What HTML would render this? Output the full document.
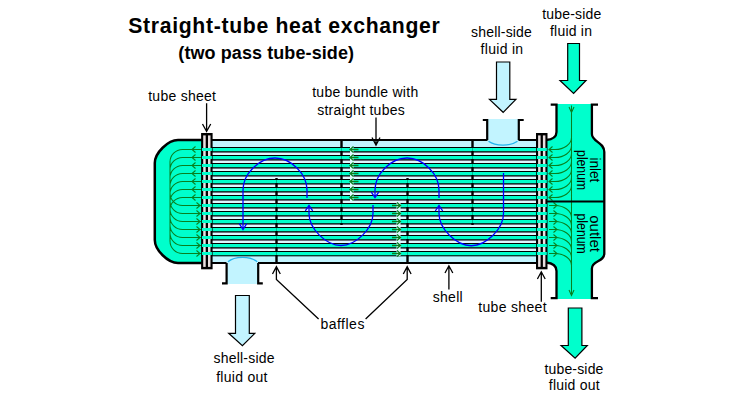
<!DOCTYPE html>
<html><head><meta charset="utf-8"><style>
html,body{margin:0;padding:0;background:#fff;width:750px;height:400px;overflow:hidden}
svg{display:block}
</style></head><body>
<svg width="750" height="400" viewBox="0 0 750 400">
<rect width="750" height="400" fill="#fff"/>
<text x="128.2" y="32.7" font-family="Liberation Sans, sans-serif" font-weight="bold" font-size="21.2" textLength="311.6" lengthAdjust="spacing">Straight-tube heat exchanger</text><text x="178.3" y="58.9" font-family="Liberation Sans, sans-serif" font-weight="bold" font-size="18" textLength="175.7" lengthAdjust="spacing">(two pass tube-side)</text><text x="148.2" y="101.10" font-family="Liberation Sans, sans-serif" font-size="14" textLength="67.8" lengthAdjust="spacing">tube sheet</text><text x="312.2" y="97.10" font-family="Liberation Sans, sans-serif" font-size="14" textLength="106" lengthAdjust="spacing">tube bundle with</text><text x="317.2" y="114.60" font-family="Liberation Sans, sans-serif" font-size="14" textLength="87.6" lengthAdjust="spacing">straight tubes</text><text x="471" y="36.60" font-family="Liberation Sans, sans-serif" font-size="14" textLength="60.9" lengthAdjust="spacing">shell-side</text><text x="480.6" y="54.35" font-family="Liberation Sans, sans-serif" font-size="14" textLength="42.5" lengthAdjust="spacing">fluid in</text><text x="542.2" y="19.10" font-family="Liberation Sans, sans-serif" font-size="14" textLength="59" lengthAdjust="spacing">tube-side</text><text x="550" y="36.10" font-family="Liberation Sans, sans-serif" font-size="14" textLength="42" lengthAdjust="spacing">fluid in</text><text x="320.4" y="329.20" font-family="Liberation Sans, sans-serif" font-size="14" textLength="44" lengthAdjust="spacing">baffles</text><text x="432.7" y="301.70" font-family="Liberation Sans, sans-serif" font-size="14" textLength="30" lengthAdjust="spacing">shell</text><text x="478.2" y="311.60" font-family="Liberation Sans, sans-serif" font-size="14" textLength="68.4" lengthAdjust="spacing">tube sheet</text><text x="213.5" y="362.80" font-family="Liberation Sans, sans-serif" font-size="14" textLength="61" lengthAdjust="spacing">shell-side</text><text x="216.2" y="381.60" font-family="Liberation Sans, sans-serif" font-size="14" textLength="51.3" lengthAdjust="spacing">fluid out</text><text x="544.4" y="373.60" font-family="Liberation Sans, sans-serif" font-size="14" textLength="59" lengthAdjust="spacing">tube-side</text><text x="548.8" y="390.40" font-family="Liberation Sans, sans-serif" font-size="14" textLength="50.8" lengthAdjust="spacing">fluid out</text><rect x="212" y="141" width="326" height="121" fill="#C2F4FF"/><rect x="212" y="147" width="326" height="1" fill="#000"/><rect x="212" y="148" width="326" height="3" fill="#00FFCC"/><rect x="212" y="151" width="326" height="1" fill="#083E32"/><rect x="212" y="152" width="326" height="1" fill="#6E6E7C"/><rect x="212" y="153" width="326" height="2" fill="#DCF9FF"/><rect x="212" y="155" width="326" height="1" fill="#000"/><rect x="212" y="156" width="326" height="3" fill="#00FFCC"/><rect x="212" y="159" width="326" height="1" fill="#083E32"/><rect x="212" y="160" width="326" height="1" fill="#6E6E7C"/><rect x="212" y="161" width="326" height="2" fill="#DCF9FF"/><rect x="212" y="163" width="326" height="1" fill="#000"/><rect x="212" y="164" width="326" height="3" fill="#00FFCC"/><rect x="212" y="167" width="326" height="1" fill="#083E32"/><rect x="212" y="168" width="326" height="1" fill="#6E6E7C"/><rect x="212" y="169" width="326" height="2" fill="#DCF9FF"/><rect x="212" y="171" width="326" height="1" fill="#000"/><rect x="212" y="172" width="326" height="3" fill="#00FFCC"/><rect x="212" y="175" width="326" height="1" fill="#083E32"/><rect x="212" y="176" width="326" height="1" fill="#6E6E7C"/><rect x="212" y="177" width="326" height="2" fill="#DCF9FF"/><rect x="212" y="179" width="326" height="1" fill="#000"/><rect x="212" y="180" width="326" height="3" fill="#00FFCC"/><rect x="212" y="183" width="326" height="1" fill="#083E32"/><rect x="212" y="184" width="326" height="1" fill="#6E6E7C"/><rect x="212" y="185" width="326" height="2" fill="#DCF9FF"/><rect x="212" y="187" width="326" height="1" fill="#000"/><rect x="212" y="188" width="326" height="3" fill="#00FFCC"/><rect x="212" y="191" width="326" height="1" fill="#083E32"/><rect x="212" y="192" width="326" height="1" fill="#6E6E7C"/><rect x="212" y="193" width="326" height="2" fill="#DCF9FF"/><rect x="212" y="195" width="326" height="1" fill="#000"/><rect x="212" y="196" width="326" height="3" fill="#00FFCC"/><rect x="212" y="199" width="326" height="1" fill="#083E32"/><rect x="212" y="200" width="326" height="1" fill="#6E6E7C"/><rect x="212" y="201" width="326" height="2" fill="#DCF9FF"/><rect x="212" y="203" width="326" height="1" fill="#000"/><rect x="212" y="204" width="326" height="3" fill="#00FFCC"/><rect x="212" y="207" width="326" height="1" fill="#083E32"/><rect x="212" y="208" width="326" height="1" fill="#6E6E7C"/><rect x="212" y="209" width="326" height="2" fill="#DCF9FF"/><rect x="212" y="211" width="326" height="1" fill="#000"/><rect x="212" y="212" width="326" height="3" fill="#00FFCC"/><rect x="212" y="215" width="326" height="1" fill="#083E32"/><rect x="212" y="216" width="326" height="1" fill="#6E6E7C"/><rect x="212" y="217" width="326" height="2" fill="#DCF9FF"/><rect x="212" y="219" width="326" height="1" fill="#000"/><rect x="212" y="220" width="326" height="3" fill="#00FFCC"/><rect x="212" y="223" width="326" height="1" fill="#083E32"/><rect x="212" y="224" width="326" height="1" fill="#6E6E7C"/><rect x="212" y="225" width="326" height="2" fill="#DCF9FF"/><rect x="212" y="227" width="326" height="1" fill="#000"/><rect x="212" y="228" width="326" height="3" fill="#00FFCC"/><rect x="212" y="231" width="326" height="1" fill="#083E32"/><rect x="212" y="232" width="326" height="1" fill="#6E6E7C"/><rect x="212" y="233" width="326" height="2" fill="#DCF9FF"/><rect x="212" y="235" width="326" height="1" fill="#000"/><rect x="212" y="236" width="326" height="3" fill="#00FFCC"/><rect x="212" y="239" width="326" height="1" fill="#083E32"/><rect x="212" y="240" width="326" height="1" fill="#6E6E7C"/><rect x="212" y="241" width="326" height="2" fill="#DCF9FF"/><rect x="212" y="243" width="326" height="1" fill="#000"/><rect x="212" y="244" width="326" height="3" fill="#00FFCC"/><rect x="212" y="247" width="326" height="1" fill="#083E32"/><rect x="212" y="248" width="326" height="1" fill="#6E6E7C"/><rect x="212" y="249" width="326" height="2" fill="#DCF9FF"/><rect x="212" y="251" width="326" height="1" fill="#000"/><rect x="212" y="252" width="326" height="3" fill="#00FFCC"/><rect x="212" y="255" width="326" height="1" fill="#083E32"/><rect x="212" y="256" width="326" height="1" fill="#7AA8B0"/><rect x="487" y="119" width="32" height="23" fill="#C2F4FF"/><path d="M482.8 120 H487.2 V140" fill="none" stroke="#000" stroke-width="2.2"/><path d="M523.7 120 H518.8 V140" fill="none" stroke="#000" stroke-width="2.2"/><path d="M488.5 141.3 C493 144.6 497 145.1 503 145.1 C509 145.1 513 144.6 517.5 141.3" fill="none" stroke="#22B4EE" stroke-width="1.3"/><rect x="226" y="262" width="32" height="22" fill="#C2F4FF"/><path d="M222 283.4 H226.6 V263" fill="none" stroke="#000" stroke-width="2.2"/><path d="M262.8 283.4 H258.2 V263" fill="none" stroke="#000" stroke-width="2.2"/><path d="M228 261.8 C232 258.2 237 257.4 242.6 257.4 C248 257.4 253 258.2 257.2 261.8" fill="none" stroke="#22B4EE" stroke-width="1.3"/><rect x="178" y="139" width="309.5" height="2" fill="#000"/><rect x="518.5" y="139" width="28" height="2" fill="#000"/><rect x="178" y="262" width="48.5" height="2" fill="#000"/><rect x="258" y="262" width="288" height="2" fill="#000"/><path d="M202 140 H178 C168 140 154.8 153 154.8 163 V240 C154.8 250 168 263 178 263 H202 Z" fill="#00FFCC"/><path d="M202 140 H178 C168 140 154.8 153 154.8 163 V240 C154.8 250 168 263 178 263 H202" fill="none" stroke="#000" stroke-width="2.5"/><path d="M556.5 104 V132 C556.5 138 552 139.5 547 140 V262.5 C552 263 556.5 265 556.5 271 V299 H591.9 V268.5 C591.9 260.5 604.3 262 604.3 253.5 V152 C604.3 142 591.9 142 591.9 134 V104 Z" fill="#00FFCC"/><path d="M550.7 104.6 H556.5 V132 C556.5 138 552 139.5 546 140" fill="none" stroke="#000" stroke-width="2.3"/><path d="M598 104.6 H591.9 V134 C591.9 142 604.3 142 604.3 152 V253.5 C604.3 262 591.9 260.5 591.9 268.5 V298.2 H598" fill="none" stroke="#000" stroke-width="2.3"/><path d="M546 262.5 C552 263 556.5 265 556.5 271 V298.2 H550.7" fill="none" stroke="#000" stroke-width="2.3"/><rect x="201.1" y="133" width="11.5" height="136.3" fill="#000"/><rect x="203.2" y="135.4" width="2.5" height="131.5" fill="#E8E0E0"/><rect x="208.0" y="135.4" width="2.5" height="131.5" fill="#E8E0E0"/><rect x="201.9" y="148" width="10" height="3" fill="#00FFCC"/><rect x="201.9" y="156" width="10" height="3" fill="#00FFCC"/><rect x="201.9" y="164" width="10" height="3" fill="#00FFCC"/><rect x="201.9" y="172" width="10" height="3" fill="#00FFCC"/><rect x="201.9" y="180" width="10" height="3" fill="#00FFCC"/><rect x="201.9" y="188" width="10" height="3" fill="#00FFCC"/><rect x="201.9" y="196" width="10" height="3" fill="#00FFCC"/><rect x="201.9" y="204" width="10" height="3" fill="#00FFCC"/><rect x="201.9" y="212" width="10" height="3" fill="#00FFCC"/><rect x="201.9" y="220" width="10" height="3" fill="#00FFCC"/><rect x="201.9" y="228" width="10" height="3" fill="#00FFCC"/><rect x="201.9" y="236" width="10" height="3" fill="#00FFCC"/><rect x="201.9" y="244" width="10" height="3" fill="#00FFCC"/><rect x="201.9" y="252" width="10" height="3" fill="#00FFCC"/><rect x="536" y="133" width="11.5" height="136.3" fill="#000"/><rect x="538.1" y="135.4" width="2.5" height="131.5" fill="#E8E0E0"/><rect x="542.9" y="135.4" width="2.5" height="131.5" fill="#E8E0E0"/><rect x="536.8" y="148" width="10" height="3" fill="#00FFCC"/><rect x="536.8" y="156" width="10" height="3" fill="#00FFCC"/><rect x="536.8" y="164" width="10" height="3" fill="#00FFCC"/><rect x="536.8" y="172" width="10" height="3" fill="#00FFCC"/><rect x="536.8" y="180" width="10" height="3" fill="#00FFCC"/><rect x="536.8" y="188" width="10" height="3" fill="#00FFCC"/><rect x="536.8" y="196" width="10" height="3" fill="#00FFCC"/><rect x="536.8" y="204" width="10" height="3" fill="#00FFCC"/><rect x="536.8" y="212" width="10" height="3" fill="#00FFCC"/><rect x="536.8" y="220" width="10" height="3" fill="#00FFCC"/><rect x="536.8" y="228" width="10" height="3" fill="#00FFCC"/><rect x="536.8" y="236" width="10" height="3" fill="#00FFCC"/><rect x="536.8" y="244" width="10" height="3" fill="#00FFCC"/><rect x="536.8" y="252" width="10" height="3" fill="#00FFCC"/><rect x="275.3" y="178" width="2.4" height="84" fill="#000"/><rect x="275.0" y="180" width="3" height="3" fill="#00FFCC"/><rect x="276.0" y="180" width="1" height="3" fill="#00B890"/><rect x="275.0" y="188" width="3" height="3" fill="#00FFCC"/><rect x="276.0" y="188" width="1" height="3" fill="#00B890"/><rect x="275.0" y="196" width="3" height="3" fill="#00FFCC"/><rect x="276.0" y="196" width="1" height="3" fill="#00B890"/><rect x="275.0" y="204" width="3" height="3" fill="#00FFCC"/><rect x="276.0" y="204" width="1" height="3" fill="#00B890"/><rect x="275.0" y="212" width="3" height="3" fill="#00FFCC"/><rect x="276.0" y="212" width="1" height="3" fill="#00B890"/><rect x="275.0" y="220" width="3" height="3" fill="#00FFCC"/><rect x="276.0" y="220" width="1" height="3" fill="#00B890"/><rect x="275.0" y="228" width="3" height="3" fill="#00FFCC"/><rect x="276.0" y="228" width="1" height="3" fill="#00B890"/><rect x="275.0" y="236" width="3" height="3" fill="#00FFCC"/><rect x="276.0" y="236" width="1" height="3" fill="#00B890"/><rect x="275.0" y="244" width="3" height="3" fill="#00FFCC"/><rect x="276.0" y="244" width="1" height="3" fill="#00B890"/><rect x="275.0" y="252" width="3" height="3" fill="#00FFCC"/><rect x="276.0" y="252" width="1" height="3" fill="#00B890"/><rect x="340.3" y="141" width="2.4" height="84" fill="#000"/><rect x="340.0" y="148" width="3" height="3" fill="#00FFCC"/><rect x="341.0" y="148" width="1" height="3" fill="#00B890"/><rect x="340.0" y="156" width="3" height="3" fill="#00FFCC"/><rect x="341.0" y="156" width="1" height="3" fill="#00B890"/><rect x="340.0" y="164" width="3" height="3" fill="#00FFCC"/><rect x="341.0" y="164" width="1" height="3" fill="#00B890"/><rect x="340.0" y="172" width="3" height="3" fill="#00FFCC"/><rect x="341.0" y="172" width="1" height="3" fill="#00B890"/><rect x="340.0" y="180" width="3" height="3" fill="#00FFCC"/><rect x="341.0" y="180" width="1" height="3" fill="#00B890"/><rect x="340.0" y="188" width="3" height="3" fill="#00FFCC"/><rect x="341.0" y="188" width="1" height="3" fill="#00B890"/><rect x="340.0" y="196" width="3" height="3" fill="#00FFCC"/><rect x="341.0" y="196" width="1" height="3" fill="#00B890"/><rect x="340.0" y="204" width="3" height="3" fill="#00FFCC"/><rect x="341.0" y="204" width="1" height="3" fill="#00B890"/><rect x="340.0" y="212" width="3" height="3" fill="#00FFCC"/><rect x="341.0" y="212" width="1" height="3" fill="#00B890"/><rect x="340.0" y="220" width="3" height="3" fill="#00FFCC"/><rect x="341.0" y="220" width="1" height="3" fill="#00B890"/><rect x="406.3" y="178" width="2.4" height="84" fill="#000"/><rect x="406.0" y="180" width="3" height="3" fill="#00FFCC"/><rect x="407.0" y="180" width="1" height="3" fill="#00B890"/><rect x="406.0" y="188" width="3" height="3" fill="#00FFCC"/><rect x="407.0" y="188" width="1" height="3" fill="#00B890"/><rect x="406.0" y="196" width="3" height="3" fill="#00FFCC"/><rect x="407.0" y="196" width="1" height="3" fill="#00B890"/><rect x="406.0" y="204" width="3" height="3" fill="#00FFCC"/><rect x="407.0" y="204" width="1" height="3" fill="#00B890"/><rect x="406.0" y="212" width="3" height="3" fill="#00FFCC"/><rect x="407.0" y="212" width="1" height="3" fill="#00B890"/><rect x="406.0" y="220" width="3" height="3" fill="#00FFCC"/><rect x="407.0" y="220" width="1" height="3" fill="#00B890"/><rect x="406.0" y="228" width="3" height="3" fill="#00FFCC"/><rect x="407.0" y="228" width="1" height="3" fill="#00B890"/><rect x="406.0" y="236" width="3" height="3" fill="#00FFCC"/><rect x="407.0" y="236" width="1" height="3" fill="#00B890"/><rect x="406.0" y="244" width="3" height="3" fill="#00FFCC"/><rect x="407.0" y="244" width="1" height="3" fill="#00B890"/><rect x="406.0" y="252" width="3" height="3" fill="#00FFCC"/><rect x="407.0" y="252" width="1" height="3" fill="#00B890"/><rect x="471.3" y="141" width="2.4" height="84" fill="#000"/><rect x="471.0" y="148" width="3" height="3" fill="#00FFCC"/><rect x="472.0" y="148" width="1" height="3" fill="#00B890"/><rect x="471.0" y="156" width="3" height="3" fill="#00FFCC"/><rect x="472.0" y="156" width="1" height="3" fill="#00B890"/><rect x="471.0" y="164" width="3" height="3" fill="#00FFCC"/><rect x="472.0" y="164" width="1" height="3" fill="#00B890"/><rect x="471.0" y="172" width="3" height="3" fill="#00FFCC"/><rect x="472.0" y="172" width="1" height="3" fill="#00B890"/><rect x="471.0" y="180" width="3" height="3" fill="#00FFCC"/><rect x="472.0" y="180" width="1" height="3" fill="#00B890"/><rect x="471.0" y="188" width="3" height="3" fill="#00FFCC"/><rect x="472.0" y="188" width="1" height="3" fill="#00B890"/><rect x="471.0" y="196" width="3" height="3" fill="#00FFCC"/><rect x="472.0" y="196" width="1" height="3" fill="#00B890"/><rect x="471.0" y="204" width="3" height="3" fill="#00FFCC"/><rect x="472.0" y="204" width="1" height="3" fill="#00B890"/><rect x="471.0" y="212" width="3" height="3" fill="#00FFCC"/><rect x="472.0" y="212" width="1" height="3" fill="#00B890"/><rect x="471.0" y="220" width="3" height="3" fill="#00FFCC"/><rect x="472.0" y="220" width="1" height="3" fill="#00B890"/><path d="M243 228 V190 C243 174.0 259.0 158 275 158 C291.0 158 307 174.0 307 190 V198" fill="none" stroke="#0000FF" stroke-width="1.3"/><path d="M309 207 V213.5 C309 228.54 325.96 245.5 341 245.5 C356.04 245.5 373 228.54 373 213.5 V205" fill="none" stroke="#0000FF" stroke-width="1.3"/><path d="M375 196 V190 C375 174.0 391.0 158 407 158 C423.0 158 439 174.0 439 190 V198" fill="none" stroke="#0000FF" stroke-width="1.3"/><path d="M439 207 V213.5 C439.0 228.6575 456.0925 245.75 471.25 245.75 C486.4075 245.75 503.5 228.6575 503.5 213.5 V173" fill="none" stroke="#0000FF" stroke-width="1.3"/><path d="M239.3 223.7 L243 229.5 L246.7 223.7" fill="none" stroke="#0000FF" stroke-width="1.3"/><path d="M305.3 210.9 L309 205.4 L312.7 210.9" fill="none" stroke="#0000FF" stroke-width="1.3"/><path d="M371.3 192.1 L375 197.6 L378.7 192.1" fill="none" stroke="#0000FF" stroke-width="1.3"/><path d="M435.3 211.0 L439 205.5 L442.7 211.0" fill="none" stroke="#0000FF" stroke-width="1.3"/><path d="M201 149.5 H182.5 A12.5 12.5 0 0 0 170 162.0 V202 M195.5 146.5 L192 149.5 L195.5 152.5 M201 157.5 H182.5 A12.5 12.5 0 0 0 170 170.0 V202 M195.5 154.5 L192 157.5 L195.5 160.5 M201 165.5 H182.5 A12.5 12.5 0 0 0 170 178.0 V202 M195.5 162.5 L192 165.5 L195.5 168.5 M201 173.5 H182.5 A12.5 12.5 0 0 0 170 186.0 V202 M195.5 170.5 L192 173.5 L195.5 176.5 M201 181.5 H182.5 A12.5 12.5 0 0 0 170 194.0 V202 M195.5 178.5 L192 181.5 L195.5 184.5 M201 189.5 H182.5 A12.5 12.5 0 0 0 170 202.0 V202 M195.5 186.5 L192 189.5 L195.5 192.5 M201 197.5 H182.5 A12.5 12.5 0 0 0 170 210.0 V202 M195.5 194.5 L192 197.5 L195.5 200.5 M201 205.5 H182.5 A12.5 12.5 0 0 1 170 193.0 V202 M196.5 202.5 L200 205.5 L196.5 208.5 M201 213.5 H182.5 A12.5 12.5 0 0 1 170 201.0 V202 M196.5 210.5 L200 213.5 L196.5 216.5 M201 221.5 H182.5 A12.5 12.5 0 0 1 170 209.0 V202 M196.5 218.5 L200 221.5 L196.5 224.5 M201 229.5 H182.5 A12.5 12.5 0 0 1 170 217.0 V202 M196.5 226.5 L200 229.5 L196.5 232.5 M201 237.5 H182.5 A12.5 12.5 0 0 1 170 225.0 V202 M196.5 234.5 L200 237.5 L196.5 240.5 M201 245.5 H182.5 A12.5 12.5 0 0 1 170 233.0 V202 M196.5 242.5 L200 245.5 L196.5 248.5 M201 253.5 H182.5 A12.5 12.5 0 0 1 170 241.0 V202 M196.5 250.5 L200 253.5 L196.5 256.5" fill="none" stroke="#08801F" stroke-width="1.05"/><path d="M571.5 105.5 V296 M569 107 L571.5 112.5 L574 107 M569 290 L571.5 295.5 L574 290 M549 149.5 H555 A16.5 12 0 0 0 571.5 137.5 M552.5 146.5 L549 149.5 L552.5 152.5 M549 157.5 H555 A16.5 12 0 0 0 571.5 145.5 M552.5 154.5 L549 157.5 L552.5 160.5 M549 165.5 H555 A16.5 12 0 0 0 571.5 153.5 M552.5 162.5 L549 165.5 L552.5 168.5 M549 173.5 H555 A16.5 12 0 0 0 571.5 161.5 M552.5 170.5 L549 173.5 L552.5 176.5 M549 181.5 H555 A16.5 12 0 0 0 571.5 169.5 M552.5 178.5 L549 181.5 L552.5 184.5 M549 189.5 H555 A16.5 12 0 0 0 571.5 177.5 M552.5 186.5 L549 189.5 L552.5 192.5 M549 197.5 H555 A16.5 12 0 0 0 571.5 185.5 M552.5 194.5 L549 197.5 L552.5 200.5 M549 205.5 H555 A16.5 12 0 0 1 571.5 217.5 M553.5 202.5 L557 205.5 L553.5 208.5 M549 213.5 H555 A16.5 12 0 0 1 571.5 225.5 M553.5 210.5 L557 213.5 L553.5 216.5 M549 221.5 H555 A16.5 12 0 0 1 571.5 233.5 M553.5 218.5 L557 221.5 L553.5 224.5 M549 229.5 H555 A16.5 12 0 0 1 571.5 241.5 M553.5 226.5 L557 229.5 L553.5 232.5 M549 237.5 H555 A16.5 12 0 0 1 571.5 249.5 M553.5 234.5 L557 237.5 L553.5 240.5 M549 245.5 H555 A16.5 12 0 0 1 571.5 257.5 M553.5 242.5 L557 245.5 L553.5 248.5 M549 253.5 H555 A16.5 12 0 0 1 571.5 265.5 M553.5 250.5 L557 253.5 L553.5 256.5" fill="none" stroke="#08801F" stroke-width="1.05"/><rect x="547" y="200.5" width="58" height="2" fill="#000"/><rect x="350" y="147" width="3.5" height="56" fill="#DCF9FF"/><rect x="396.5" y="203" width="4" height="53" fill="#DCF9FF"/><path d="M350 149.5 H358.5 M353.5 146.5 L350 149.5 L353.5 152.5 M350 157.5 H358.5 M353.5 154.5 L350 157.5 L353.5 160.5 M350 165.5 H358.5 M353.5 162.5 L350 165.5 L353.5 168.5 M350 173.5 H358.5 M353.5 170.5 L350 173.5 L353.5 176.5 M350 181.5 H358.5 M353.5 178.5 L350 181.5 L353.5 184.5 M350 189.5 H358.5 M353.5 186.5 L350 189.5 L353.5 192.5 M350 197.5 H358.5 M353.5 194.5 L350 197.5 L353.5 200.5 M392 205.5 H400.5 M397 202.5 L400.5 205.5 L397 208.5 M392 213.5 H400.5 M397 210.5 L400.5 213.5 L397 216.5 M392 221.5 H400.5 M397 218.5 L400.5 221.5 L397 224.5 M392 229.5 H400.5 M397 226.5 L400.5 229.5 L397 232.5 M392 237.5 H400.5 M397 234.5 L400.5 237.5 L397 240.5 M392 245.5 H400.5 M397 242.5 L400.5 245.5 L397 248.5 M392 253.5 H400.5 M397 250.5 L400.5 253.5 L397 256.5" fill="none" stroke="#08801F" stroke-width="1.3"/><text transform="translate(590 157.4) rotate(90)" font-family="Liberation Sans, sans-serif" font-size="14" textLength="25" lengthAdjust="spacingAndGlyphs">inlet</text><text transform="translate(577 150.1) rotate(90)" font-family="Liberation Sans, sans-serif" font-size="14" textLength="40" lengthAdjust="spacingAndGlyphs">plenum</text><text transform="translate(590 215.3) rotate(90)" font-family="Liberation Sans, sans-serif" font-size="14" textLength="36.6" lengthAdjust="spacingAndGlyphs">outlet</text><text transform="translate(577 213.5) rotate(90)" font-family="Liberation Sans, sans-serif" font-size="14" textLength="40.3" lengthAdjust="spacingAndGlyphs">plenum</text><path d="M206.6 103.3 V131.5 M202.5 124 L206.6 131.5 L210.7 124 M376 117.6 V145 M372 137.5 L376 145 L380 137.5 M276.4 266.7 V279.5 L318.6 319 M272.5 274 L276.4 266.7 L280.3 274 M407.2 266.7 V279.5 L365.6 319 M403.3 274 L407.2 266.7 L411.1 274 M448.9 265.8 V289.5 M445 273 L448.9 265.8 L452.8 273 M541.3 271.8 V301.7 M537.4 279 L541.3 271.8 L545.2 279" fill="none" stroke="#000" stroke-width="1.3"/><path d="M496.5 62 H509.8 V99.4 H515.9 L503.15 112.3 L489.5 99.4 H496.5 Z" fill="#C2F4FF" stroke="#000" stroke-width="1.2" stroke-linejoin="miter"/><path d="M567.7 43.5 H579.5 V80.5 H586 L573.6 93.5 L560 80.5 H567.7 Z" fill="#00FFCC" stroke="#000" stroke-width="1.2" stroke-linejoin="miter"/><path d="M235.5 295.5 H249.3 V333.3 H254.8 L242.4 345.7 L228.7 333.3 H235.5 Z" fill="#C2F4FF" stroke="#000" stroke-width="1.2" stroke-linejoin="miter"/><path d="M568.3 308 H581.9 V345.5 H587.3 L575.0999999999999 358.2 L561.1 345.5 H568.3 Z" fill="#00FFCC" stroke="#000" stroke-width="1.2" stroke-linejoin="miter"/>
</svg>
</body></html>
